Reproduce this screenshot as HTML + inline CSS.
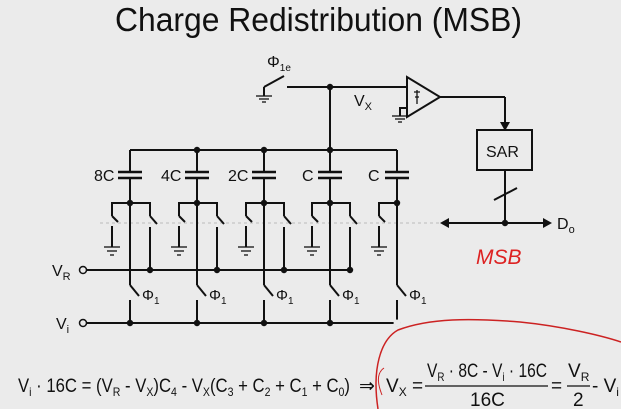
<!DOCTYPE html>
<html><head><meta charset="utf-8"><style>
html,body{margin:0;padding:0;background:#ebebeb;}
svg{display:block;}
text{font-family:"Liberation Sans",sans-serif;fill:#111;}
</style></head><body>
<svg width="621" height="409" viewBox="0 0 621 409" xmlns="http://www.w3.org/2000/svg">
<rect width="621" height="409" fill="#ebebeb"/>
<text x="115" y="31" font-size="33" textLength="407" lengthAdjust="spacingAndGlyphs">Charge Redistribution (MSB)</text>
<line x1="100" y1="223" x2="440" y2="223" stroke="#bbb" stroke-dasharray="3,3"/>
<g stroke="#111" stroke-width="2" fill="none">
<line x1="130" y1="150" x2="397" y2="150"/>
<line x1="130" y1="150" x2="130" y2="172"/>
<line x1="397" y1="150" x2="397" y2="172"/>
<line x1="197" y1="150" x2="197" y2="172"/>
<line x1="264" y1="150" x2="264" y2="172"/>
<line x1="330" y1="150" x2="330" y2="172"/>
<line x1="330" y1="150" x2="330" y2="87"/>
<line x1="287" y1="87" x2="407" y2="87"/>
<line x1="264" y1="87" x2="284" y2="76"/>
<line x1="264" y1="87" x2="264" y2="96"/>
<polygon points="407,77 407,117 440,97"/>
<line x1="440" y1="97" x2="505" y2="97"/>
<line x1="505" y1="97" x2="505" y2="125"/>
<rect x="477" y="130" width="55" height="40"/>
<line x1="505" y1="170" x2="505" y2="223"/>
<line x1="494" y1="200" x2="517" y2="188"/>
<line x1="446" y1="223" x2="544" y2="223"/>
<polyline points="407,108 400,108 400,116"/>
<line x1="87" y1="270" x2="350" y2="270"/>
<line x1="87" y1="323" x2="397" y2="323"/>
<line x1="397" y1="323" x2="397" y2="300"/>
</g>
<g stroke="#111" stroke-width="1.3" fill="none">
<line x1="256" y1="96" x2="272" y2="96"/><line x1="259" y1="99" x2="269" y2="99"/><line x1="262" y1="102" x2="266" y2="102"/>
<line x1="392" y1="116" x2="408" y2="116"/><line x1="395" y1="119" x2="405" y2="119"/><line x1="398" y1="122" x2="402" y2="122"/>
<path d="M417 90 L417 104 M414 92 L420 92 M419 97 L415 97"/>
</g>
<polygon points="505,131 500,122 510,122" fill="#111"/>
<polygon points="440,223 449,218 449,228" fill="#111"/>
<polygon points="552,223 543,218 543,228" fill="#111"/>
<circle cx="83" cy="270" r="3.5" fill="#ebebeb" stroke="#111" stroke-width="1.5"/>
<circle cx="83" cy="323" r="3.5" fill="#ebebeb" stroke="#111" stroke-width="1.5"/>
<g fill="#111">
<circle cx="330" cy="87" r="3.2"/>
<circle cx="197" cy="150" r="3.2"/><circle cx="264" cy="150" r="3.2"/><circle cx="330" cy="150" r="3.2"/>
<circle cx="505" cy="223" r="3.2"/>
</g>
<defs>
<g id="colA">
<line x1="-12" y1="172" x2="12" y2="172" stroke="#111" stroke-width="2.5"/>
<line x1="-12" y1="178" x2="12" y2="178" stroke="#111" stroke-width="2.5"/>
<g stroke="#111" stroke-width="2" fill="none">
<line x1="0" y1="178" x2="0" y2="285"/>
<line x1="0" y1="285" x2="9" y2="296"/>
<line x1="0" y1="300" x2="0" y2="323"/>
<polyline points="0,203 -18,203 -18,216"/>
<line x1="-18" y1="216" x2="-12" y2="222"/>
<line x1="-18" y1="226" x2="-18" y2="247"/>
</g>
<g stroke="#111" stroke-width="1.3"><line x1="-26" y1="247" x2="-10" y2="247"/><line x1="-23" y1="251" x2="-13" y2="251"/><line x1="-20" y1="255" x2="-16" y2="255"/></g>
<circle cx="0" cy="203" r="3.2" fill="#111"/>
<circle cx="0" cy="323" r="3.2" fill="#111"/>
<text x="12" y="300" font-size="15">Φ<tspan font-size="10" dy="4">1</tspan></text>
</g>
<g id="colB">
<g stroke="#111" stroke-width="2" fill="none">
<polyline points="0,203 20,203 20,216"/>
<line x1="20" y1="216" x2="27" y2="224"/>
<line x1="20" y1="227" x2="20" y2="270"/>
</g>
<circle cx="20" cy="270" r="3.2" fill="#111"/>
</g>
</defs>
<use href="#colA" x="130"/><use href="#colB" x="130"/>
<use href="#colA" x="197"/><use href="#colB" x="197"/>
<use href="#colA" x="264"/><use href="#colB" x="264"/>
<use href="#colA" x="330"/><use href="#colB" x="330"/>
<use href="#colA" x="397"/>
<circle cx="397" cy="323" r="3.5" fill="#ebebeb"/>
<g font-size="16">
<text x="94" y="181">8C</text>
<text x="161" y="181">4C</text>
<text x="228" y="181">2C</text>
<text x="302" y="181">C</text>
<text x="368" y="181">C</text>
<text x="52" y="276">V<tspan font-size="11" dy="4">R</tspan></text>
<text x="56" y="329">V<tspan font-size="11" dy="4">i</tspan></text>
<text x="267" y="67">Φ<tspan font-size="10" dy="4">1e</tspan></text>
<text x="354" y="106">V<tspan font-size="11" dy="4">X</tspan></text>
<text x="486" y="157" font-size="16">SAR</text>
<text x="557" y="229">D<tspan font-size="11" dy="4">o</tspan></text>
</g>
<text x="476" y="264" font-size="21" style="fill:#d22;font-style:italic" font-family="Liberation Serif">MSB</text>
<path d="M378 409 C372 370 380 340 398 330 C430 318 470 318 520 322 C560 326 600 335 621 342" stroke="#c22" stroke-width="1.5" fill="none"/>
<path d="M384 368 C378 372 376 380 382 395" stroke="#c22" stroke-width="1" fill="none"/>
<g font-size="19">
<text x="18" y="392" textLength="332" lengthAdjust="spacingAndGlyphs">V<tspan font-size="12" dy="4">i</tspan><tspan dy="-4"> · 16C = (V</tspan><tspan font-size="12" dy="4">R</tspan><tspan dy="-4"> - V</tspan><tspan font-size="12" dy="4">X</tspan><tspan dy="-4">)C</tspan><tspan font-size="12" dy="4">4</tspan><tspan dy="-4"> - V</tspan><tspan font-size="12" dy="4">X</tspan><tspan dy="-4">(C</tspan><tspan font-size="12" dy="4">3</tspan><tspan dy="-4"> + C</tspan><tspan font-size="12" dy="4">2</tspan><tspan dy="-4"> + C</tspan><tspan font-size="12" dy="4">1</tspan><tspan dy="-4"> + C</tspan><tspan font-size="12" dy="4">0</tspan><tspan dy="-4">)</tspan></text>
<text x="359" y="392">⇒</text>
<text x="386" y="392">V<tspan font-size="12" dy="4">X</tspan><tspan dy="-4"> =</tspan></text>
<text x="427" y="377" textLength="120" lengthAdjust="spacingAndGlyphs">V<tspan font-size="12" dy="4">R</tspan><tspan dy="-4"> · 8C - V</tspan><tspan font-size="12" dy="4">i</tspan><tspan dy="-4"> · 16C</tspan></text>
<text x="470" y="406">16C</text>
<text x="551" y="392">=</text>
<text x="568" y="377">V<tspan font-size="12" dy="4">R</tspan></text>
<text x="573" y="406">2</text>
<text x="592" y="392">- V<tspan font-size="12" dy="4">i</tspan></text>
</g>
<line x1="425" y1="386" x2="548" y2="386" stroke="#111" stroke-width="1.3"/>
<line x1="567" y1="386" x2="590" y2="386" stroke="#111" stroke-width="1.3"/>
</svg>
</body></html>
